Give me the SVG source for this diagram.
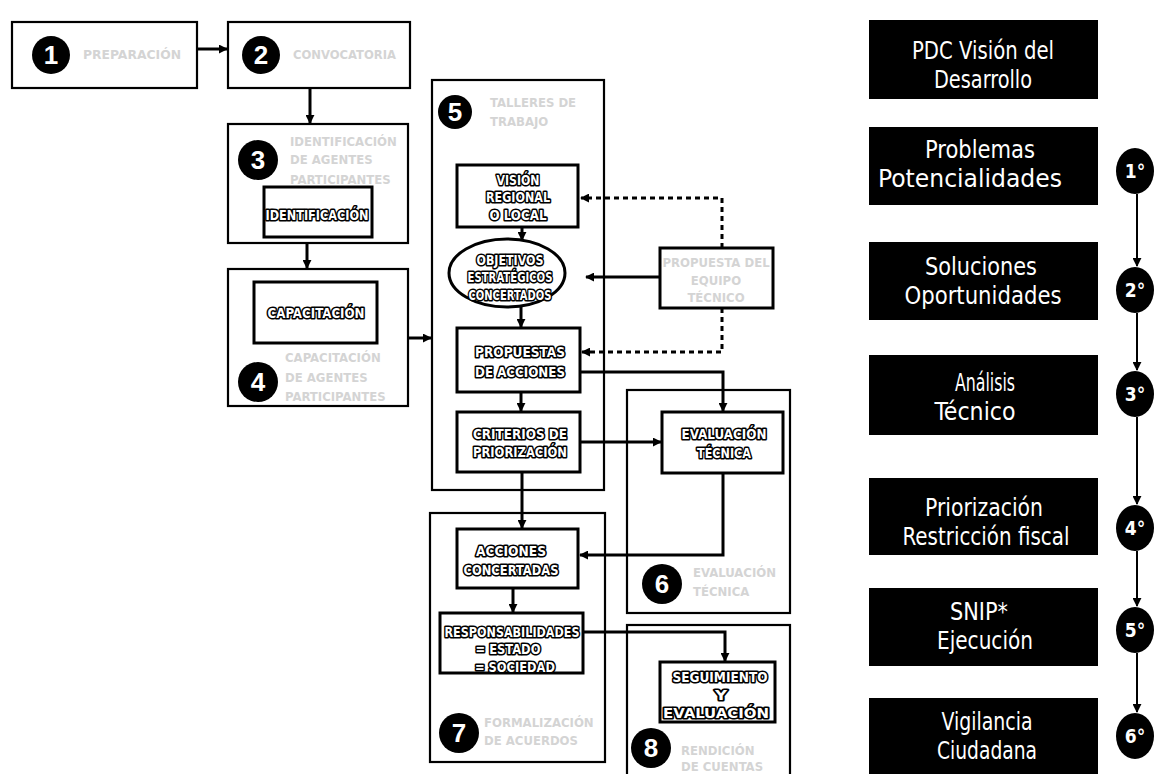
<svg xmlns="http://www.w3.org/2000/svg" width="1159" height="774" viewBox="0 0 1159 774">
<defs>
<style>
.ob{fill:#fff;stroke:#000;stroke-width:2.2}
.ib{fill:#fff;stroke:#000;stroke-width:3}
.cc{fill:#000}
.num{font-family:"Liberation Sans","DejaVu Sans",Arial,sans-serif;font-weight:bold;font-size:26px;fill:#fff;text-anchor:middle}
.rn{font-family:"Liberation Sans Narrow","DejaVu Sans Condensed","Liberation Sans",sans-serif;font-weight:bold;font-size:19px;fill:#fff;text-anchor:middle}
.it{font-family:"Liberation Sans Narrow","DejaVu Sans Condensed","Liberation Sans",sans-serif;font-weight:bold;font-size:14px;fill:#fff;stroke:#000;stroke-width:3.2;paint-order:stroke;stroke-linejoin:round;text-anchor:middle}
.fl{font-family:"Liberation Sans Narrow","DejaVu Sans Condensed","Liberation Sans",sans-serif;font-weight:bold;font-size:13px;fill:#d4d4d4}
.rb{fill:#000}
.rt{font-family:"Liberation Sans Narrow","DejaVu Sans Condensed","Liberation Sans",sans-serif;font-size:24px;fill:#fff;text-anchor:middle}
.cn{fill:none;stroke:#000;stroke-width:3;marker-end:url(#ah)}
.dn{fill:none;stroke:#000;stroke-width:3;stroke-dasharray:5 4;marker-end:url(#ah)}
.rc{fill:none;stroke:#000;stroke-width:2;marker-end:url(#ah)}
</style>
<marker id="ah" viewBox="0 0 10 10" refX="9" refY="5" markerWidth="9" markerHeight="9" markerUnits="userSpaceOnUse" orient="auto"><path d="M0,0 L10,5 L0,10 z" fill="#000"/></marker>
</defs>
<rect width="1159" height="774" fill="#fff"/>

<g id="n1">
<rect class="ob" x="12" y="22" width="185" height="66"/>
<circle class="cc" cx="51" cy="55" r="19"/>
<text class="num" x="51" y="64">1</text>
<text class="fl" x="83" y="59" textLength="98" lengthAdjust="spacingAndGlyphs">PREPARACIÓN</text>
</g>
<g id="n2">
<rect class="ob" x="228" y="22" width="182" height="66"/>
<circle class="cc" cx="261" cy="55" r="19"/>
<text class="num" x="261" y="64">2</text>
<text class="fl" x="293" y="59" textLength="103" lengthAdjust="spacingAndGlyphs">CONVOCATORIA</text>
</g>
<g id="n3">
<rect class="ob" x="228" y="124" width="180" height="119"/>
<circle class="cc" cx="258" cy="160" r="20"/>
<text class="num" x="258" y="169">3</text>
<text class="fl" x="290" y="146">IDENTIFICACIÓN</text>
<text class="fl" x="290" y="164">DE AGENTES</text>
<text class="fl" x="290" y="184">PARTICIPANTES</text>
<rect class="ib" x="264" y="187" width="108" height="50"/>
<text class="it" x="317" y="220" textLength="103" lengthAdjust="spacingAndGlyphs">IDENTIFICACIÓN</text>
</g>
<g id="n4">
<rect class="ob" x="228" y="269" width="180" height="137"/>
<rect class="ib" x="254" y="282" width="123" height="61"/>
<text class="it" x="316" y="318" textLength="97" lengthAdjust="spacingAndGlyphs">CAPACITACIÓN</text>
<circle class="cc" cx="258" cy="382" r="20"/>
<text class="num" x="258" y="391">4</text>
<text class="fl" x="285" y="362">CAPACITACIÓN</text>
<text class="fl" x="285" y="382">DE AGENTES</text>
<text class="fl" x="285" y="401">PARTICIPANTES</text>
</g>
<g id="n5">
<rect class="ob" x="432" y="80" width="172" height="410"/>
<circle class="cc" cx="455" cy="112" r="17"/>
<text class="num" x="455" y="121">5</text>
<text class="fl" x="490" y="107">TALLERES DE</text>
<text class="fl" x="490" y="126">TRABAJO</text>
</g>
<g id="n5a">
<rect class="ib" x="457" y="165" width="121" height="62"/>
<text class="it" x="518" y="185" textLength="43" lengthAdjust="spacingAndGlyphs">VISIÓN</text>
<text class="it" x="518" y="202" textLength="64" lengthAdjust="spacingAndGlyphs">REGIONAL</text>
<text class="it" x="518" y="220" textLength="57" lengthAdjust="spacingAndGlyphs">O LOCAL</text>
</g>
<g id="n5b">
<ellipse class="ib" cx="507" cy="273" rx="58" ry="34"/>
<text class="it" x="510" y="265" textLength="67" lengthAdjust="spacingAndGlyphs">OBJETIVOS</text>
<text class="it" x="510" y="282" textLength="85" lengthAdjust="spacingAndGlyphs">ESTRATÉGICOS</text>
<text class="it" x="510" y="300" textLength="83" lengthAdjust="spacingAndGlyphs">CONCERTADOS</text>
</g>
<g id="n5c">
<rect class="ib" x="457" y="328" width="123" height="64"/>
<text class="it" x="520" y="357" textLength="90" lengthAdjust="spacingAndGlyphs">PROPUESTAS</text>
<text class="it" x="520" y="377" textLength="90" lengthAdjust="spacingAndGlyphs">DE ACCIONES</text>
</g>
<g id="n5d">
<rect class="ib" x="457" y="412" width="123" height="60"/>
<text class="it" x="520" y="439" textLength="94" lengthAdjust="spacingAndGlyphs">CRITERIOS DE</text>
<text class="it" x="520" y="457" textLength="94" lengthAdjust="spacingAndGlyphs">PRIORIZACIÓN</text>
</g>
<g id="nET">
<rect class="ib" x="660" y="248" width="113" height="60"/>
<text class="fl" x="716" y="267" text-anchor="middle">PROPUESTA DEL</text>
<text class="fl" x="716" y="285" text-anchor="middle">EQUIPO</text>
<text class="fl" x="716" y="302" text-anchor="middle">TÉCNICO</text>
</g>
<g id="n6">
<rect class="ob" x="627" y="390" width="163" height="223"/>
<rect class="ib" x="662" y="412" width="121" height="61"/>
<text class="it" x="724" y="439" textLength="85" lengthAdjust="spacingAndGlyphs">EVALUACIÓN</text>
<text class="it" x="724" y="458" textLength="54" lengthAdjust="spacingAndGlyphs">TÉCNICA</text>
<circle class="cc" cx="662" cy="584" r="20"/>
<text class="num" x="662" y="593">6</text>
<text class="fl" x="693" y="577">EVALUACIÓN</text>
<text class="fl" x="693" y="596">TÉCNICA</text>
</g>
<g id="n7">
<rect class="ob" x="430" y="513" width="175" height="249"/>
<rect class="ib" x="457" y="529" width="121" height="59"/>
<text class="it" x="511" y="556" textLength="70" lengthAdjust="spacingAndGlyphs">ACCIONES</text>
<text class="it" x="511" y="575" textLength="95" lengthAdjust="spacingAndGlyphs">CONCERTADAS</text>
<rect class="ib" x="440" y="613" width="143" height="60"/>
<text class="it" x="512" y="637" textLength="135" lengthAdjust="spacingAndGlyphs">RESPONSABILIDADES</text>
<text class="it" x="508" y="654" textLength="65" lengthAdjust="spacingAndGlyphs">= ESTADO</text>
<text class="it" x="515" y="672" textLength="80" lengthAdjust="spacingAndGlyphs">= SOCIEDAD</text>
<circle class="cc" cx="459" cy="733" r="20"/>
<text class="num" x="459" y="742">7</text>
<text class="fl" x="484" y="727">FORMALIZACIÓN</text>
<text class="fl" x="484" y="745">DE ACUERDOS</text>
</g>
<g id="n8">
<rect class="ob" x="627" y="625" width="163" height="152"/>
<rect class="ib" x="660" y="662" width="115" height="60"/>
<text class="it" x="720" y="682" textLength="95" lengthAdjust="spacingAndGlyphs">SEGUIMIENTO</text>
<text class="it" x="721" y="700" textLength="12" lengthAdjust="spacingAndGlyphs">Y</text>
<text class="it" x="716" y="718" textLength="106" lengthAdjust="spacingAndGlyphs">EVALUACIÓN</text>
<circle class="cc" cx="651" cy="748" r="20"/>
<text class="num" x="651" y="757">8</text>
<text class="fl" x="681" y="755">RENDICIÓN</text>
<text class="fl" x="681" y="771">DE CUENTAS</text>
</g>

<g id="r0">
<rect class="rb" x="869" y="20" width="229" height="79"/>
<text class="rt" x="983" y="59" textLength="142" lengthAdjust="spacingAndGlyphs">PDC Visión del</text>
<text class="rt" x="983" y="88" textLength="98" lengthAdjust="spacingAndGlyphs">Desarrollo</text>
</g>
<g id="r1">
<rect class="rb" x="869" y="127" width="229" height="78"/>
<text class="rt" x="980" y="158" textLength="110" lengthAdjust="spacingAndGlyphs">Problemas</text>
<text class="rt" x="970" y="187" textLength="184" lengthAdjust="spacingAndGlyphs">Potencialidades</text>
</g>
<g id="r2">
<rect class="rb" x="869" y="242" width="229" height="78"/>
<text class="rt" x="981" y="275" textLength="112" lengthAdjust="spacingAndGlyphs">Soluciones</text>
<text class="rt" x="983" y="304" textLength="157" lengthAdjust="spacingAndGlyphs">Oportunidades</text>
</g>
<g id="r3">
<rect class="rb" x="869" y="355" width="229" height="80"/>
<text class="rt" x="985" y="391" textLength="60" lengthAdjust="spacingAndGlyphs">Análisis</text>
<text class="rt" x="975" y="420" textLength="81" lengthAdjust="spacingAndGlyphs">Técnico</text>
</g>
<g id="r4">
<rect class="rb" x="869" y="478" width="229" height="77"/>
<text class="rt" x="984" y="516" textLength="118" lengthAdjust="spacingAndGlyphs">Priorización</text>
<text class="rt" x="986" y="545" textLength="167" lengthAdjust="spacingAndGlyphs">Restricción fiscal</text>
</g>
<g id="r5">
<rect class="rb" x="869" y="588" width="229" height="78"/>
<text class="rt" x="979" y="620" textLength="58" lengthAdjust="spacingAndGlyphs">SNIP*</text>
<text class="rt" x="985" y="649" textLength="96" lengthAdjust="spacingAndGlyphs">Ejecución</text>
</g>
<g id="r6">
<rect class="rb" x="869" y="698" width="229" height="79"/>
<text class="rt" x="987" y="730" textLength="91" lengthAdjust="spacingAndGlyphs">Vigilancia</text>
<text class="rt" x="987" y="759" textLength="100" lengthAdjust="spacingAndGlyphs">Ciudadana</text>
</g>

<g id="s1"><ellipse class="cc" cx="1135" cy="171" rx="19" ry="23"/><text class="rn" x="1135" y="178">1°</text></g>
<g id="s2"><ellipse class="cc" cx="1135" cy="290" rx="19" ry="23"/><text class="rn" x="1135" y="297">2°</text></g>
<g id="s3"><ellipse class="cc" cx="1135" cy="394" rx="19" ry="23"/><text class="rn" x="1135" y="401">3°</text></g>
<g id="s4"><ellipse class="cc" cx="1135" cy="528" rx="19" ry="23"/><text class="rn" x="1135" y="535">4°</text></g>
<g id="s5"><ellipse class="cc" cx="1135" cy="630" rx="19" ry="23"/><text class="rn" x="1135" y="637">5°</text></g>
<g id="s6"><ellipse class="cc" cx="1135" cy="736" rx="19" ry="23"/><text class="rn" x="1135" y="743">6°</text></g>

<g id="connectors">
<path class="cn" d="M197,49 H227"/>
<path class="cn" d="M310,88 V123"/>
<path class="cn" d="M307,243 V268"/>
<path class="cn" d="M408,338 H431"/>
<path class="cn" d="M522,227 V240"/>
<path class="cn" d="M521,307 V327"/>
<path class="cn" d="M521,392 V411"/>
<path class="cn" d="M522,472 V528"/>
<path class="cn" d="M513,588 V612"/>
<path class="cn" d="M660,277 H586"/>
<path class="dn" d="M722,248 V198 H581"/>
<path class="dn" d="M722,308 V352 H582"/>
<path class="cn" d="M581,372 H723 V411"/>
<path class="cn" d="M581,442 H661"/>
<path class="cn" d="M723,473 V555 H580"/>
<path class="cn" d="M584,632 H725 V661"/>
<path class="rc" d="M1137,194 V266"/>
<path class="rc" d="M1137,313 V370"/>
<path class="rc" d="M1137,417 V504"/>
<path class="rc" d="M1137,551 V606"/>
<path class="rc" d="M1137,653 V712"/>
</g>
</svg>
